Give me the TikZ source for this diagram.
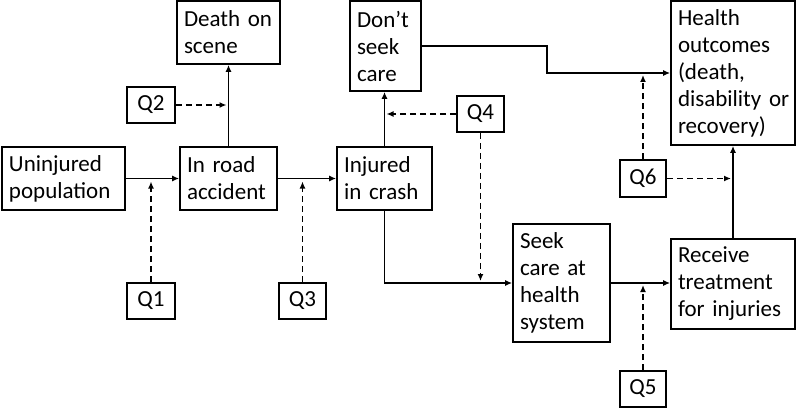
\documentclass[tikz,border=0pt]{standalone}
\usepackage{fontspec}
\setmainfont{Carlito}
\usetikzlibrary{arrows.meta,calc}
\begin{document}
\begin{tikzpicture}[x=1pt,y=-1pt,
  font=\fontsize{23}{27}\selectfont,
  box/.style={draw, line width=1.7pt, inner xsep=7pt, inner ysep=0pt, align=left},
  qbox/.style={draw, line width=1.7pt, inner sep=0pt, align=center},
  flow/.style={line width=1.7pt, -{Latex[length=7pt,width=6pt]}},
  infl/.style={line width=1.4pt, dash pattern=on 6pt off 4pt, -{Latex[length=7pt,width=6pt]}, shorten >=1pt}]
\useasboundingbox (0,0) rectangle (797,409);
% boxes
\node[box, minimum width=123pt, minimum height=63pt, text width=109pt] (U) at (63.5,178.5) {Uninjured\\population};
\node[box, minimum width=97pt, minimum height=63pt, text width=83pt] (R) at (228.5,178.5) {In road\\accident};
\node[box, minimum width=103pt, minimum height=63pt, text width=89pt] (D) at (228.5,32.5) {Death~on\\scene};
\node[box, minimum width=95pt, minimum height=63pt, text width=81pt] (I) at (384.5,178.5) {Injured\\in~crash};
\node[box, minimum width=71pt, minimum height=90pt, text width=57pt] (N) at (385.5,46) {Don’t\\seek\\care};
\node[box, minimum width=97pt, minimum height=118pt, text width=83pt] (S) at (561.5,283) {Seek\\care~at\\health\\system};
\node[box, minimum width=124pt, minimum height=90pt, text width=110pt] (T) at (733,284) {Receive\\treatment\\for~injuries};
\node[box, minimum width=124pt, minimum height=144pt, text width=110pt] (H) at (733,73) {Health\\outcomes\\(death,\\disability~or\\recovery)};
% question boxes
\node[qbox, minimum width=48pt, minimum height=36pt] (Q1) at (151,301) {Q1};
\node[qbox, minimum width=48pt, minimum height=36pt] (Q2) at (151,105) {Q2};
\node[qbox, minimum width=47pt, minimum height=36pt] (Q3) at (302.5,301) {Q3};
\node[qbox, minimum width=47pt, minimum height=36pt] (Q4) at (480.5,114) {Q4};
\node[qbox, minimum width=46pt, minimum height=36pt] (Q5) at (643,389) {Q5};
\node[qbox, minimum width=46pt, minimum height=37pt] (Q6) at (643,178.5) {Q6};
% flows
\draw[flow] (U.east) -- (R.west);
\draw[flow] (R.north) -- (D.south);
\draw[flow] (R.east) -- (I.west);
\draw[flow] (I.north) -- (I.north |- N.south);
\draw[flow] (I.south) |- (S.west);
\draw[flow] (S.east) -- (S.east -| T.west);
\draw[flow] (T.north) -- (H.south);
\draw[flow] (N.east) -- ++(125,0) |- (H.west);
% influences
\draw[infl] (Q1.north) -- ($(Q1.north |- U.east)+(0,2)$);
\draw[infl] (Q2.east) -- ($(D.south |- Q2.east)+(-1,0)$);
\draw[infl] (Q3.north) -- ($(Q3.north |- R.east)+(0,2)$);
\draw[infl] (Q4.west) -- ($(I.north |- Q4.west)+(1,0)$);
\draw[infl] (Q4.south) -- ($(Q4.south |- S.west)+(0,-1)$);
\draw[infl] (Q5.north) -- ($(Q5.north |- S.east)+(0,1)$);
\draw[infl] (Q6.north) -- ($(Q6.north |- H.west)+(0,1)$);
\draw[infl] (Q6.east) -- ($(T.north |- Q6.east)+(-1,0)$);
\end{tikzpicture}
\end{document}
